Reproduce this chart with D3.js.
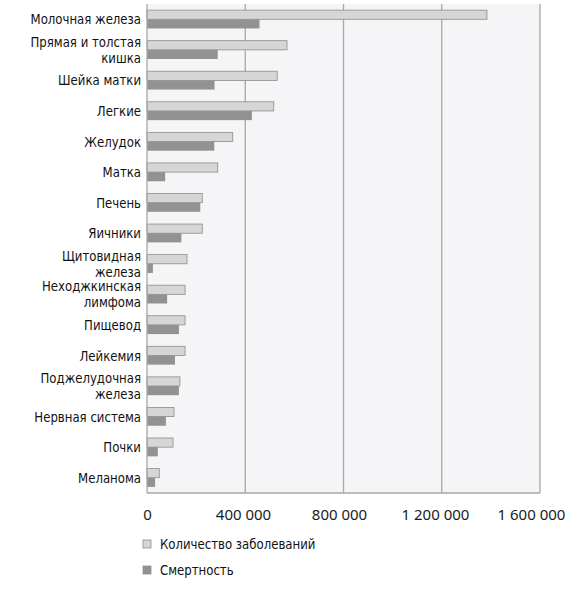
<!DOCTYPE html>
<html>
<head>
<meta charset="utf-8">
<script src="https://cdn.jsdelivr.net/npm/d3@7"></script>
<style>
  body { margin: 0; background: #fff; }
  .lbl { font-family: "DejaVu Sans Condensed", "DejaVu Sans", sans-serif; font-stretch: condensed; font-size: 14.5px; fill: #111; }
  .tick text { font-family: "Noto Sans", "Open Sans", sans-serif; font-size: 15px; fill: #1a1a1a; }
</style>
</head>
<body>
<script>
var width = 583,
	height = 597,
	margin = {top: 4, right: 43, bottom: 104, left: 147},
	squeeze = 0.9,
	lineGap = 16;

// категории (строки подписи разделены \n)
var categories = [
	"Молочная железа",
	"Прямая и толстая\nкишка",
	"Шейка матки",
	"Легкие",
	"Желудок",
	"Матка",
	"Печень",
	"Яичники",
	"Щитовидная\nжелеза",
	"Неходжкинская\nлимфома",
	"Пищевод",
	"Лейкемия",
	"Поджелудочная\nжелеза",
	"Нервная система",
	"Почки",
	"Меланома"
];
var incidence = [1384000, 570000, 530000, 516000, 349000, 288000, 225000, 225000, 163000, 155000, 155000, 155000, 134000, 110000, 106000, 50000];
var mortality = [458000, 288000, 275000, 427000, 274000, 74000, 217000, 140000, 24000, 82000, 130000, 114000, 130000, 77000, 44000, 33000];
var xTicks = [0, 400000, 800000, 1200000, 1600000];
var seriesNames = ["Количество заболеваний", "Смертность"];

var fmt = function(d){ return d3.format(",")(d).replace(/,/g, " "); };

function init() {
	var svg = d3.select("body").append("svg").attr("width", width).attr("height", height);
	var w = width - margin.left - margin.right,
		h = height - margin.top - margin.bottom;
	var g = svg.append("g").attr("transform", "translate(" + margin.left + "," + margin.top + ")");

	var x = d3.scaleLinear().domain([0, 1600000]).range([0, w]);
	var y = d3.scaleBand().domain(categories).range([0, h]).paddingInner(0.4).paddingOuter(0.2);
	var y1 = d3.scaleBand().domain([0, 1]).range([0, y.bandwidth()]);

	g.append("rect").attr("width", w).attr("height", h + 1).attr("fill", "#f5f5f7");

	// сетка
	g.selectAll("line.grid").data(xTicks.slice(1)).enter().append("line").attr("class", "grid")
		.attr("x1", function(d){ return x(d); }).attr("x2", function(d){ return x(d); })
		.attr("y1", 0).attr("y2", h)
		.attr("stroke", "#a8a8a8").attr("stroke-width", 1.3);

	var rows = g.selectAll("g.row").data(categories).enter().append("g").attr("class", "row")
		.attr("transform", function(d){ return "translate(0," + y(d) + ")"; });

	rows.append("rect")
		.attr("x", 0).attr("y", y1(0))
		.attr("width", function(d, i){ return x(incidence[i]); })
		.attr("height", y1.bandwidth())
		.attr("fill", "#d6d6d6").attr("stroke", "#8c8c8c").attr("stroke-width", 0.8);
	rows.append("rect")
		.attr("x", 0).attr("y", y1(1))
		.attr("width", function(d, i){ return x(mortality[i]); })
		.attr("height", y1.bandwidth())
		.attr("fill", "#929292");

	// подписи категорий (сжатый шрифт)
	rows.append("text").attr("class", "lbl")
		.attr("text-anchor", "end")
		.attr("transform", "translate(-6,0) scale(" + squeeze + ",1)")
		.each(function(d){
			var lines = d.split("\n"), t = d3.select(this), c = y.bandwidth() / 2;
			lines.forEach(function(l, k){
				t.append("tspan").attr("x", 0)
					.attr("y", c + (k - (lines.length - 1) / 2) * lineGap)
					.attr("dy", "0.35em").text(l);
			});
		});

	// оси
	g.append("line").attr("x1", 0).attr("x2", 0).attr("y1", 0).attr("y2", h).attr("stroke", "#a8a8a8").attr("stroke-width", 1.3);
	g.append("line").attr("x1", 0).attr("x2", w).attr("y1", h).attr("y2", h).attr("stroke", "#a8a8a8").attr("stroke-width", 1.3);

	var ax = g.append("g").attr("transform", "translate(0," + h + ")")
		.call(d3.axisBottom(x).tickValues(xTicks).tickFormat(fmt).tickSize(0).tickPadding(16));
	ax.select(".domain").remove();
	ax.selectAll(".tick text").attr("dx", function(d){ return -d / 1600000 * 9; });

	// легенда
	var leg = svg.append("g").attr("transform", "translate(143,540)");
	var items = leg.selectAll("g").data(seriesNames).enter().append("g")
		.attr("transform", function(d, i){ return "translate(0," + i * 26 + ")"; });
	items.append("rect").attr("width", 8).attr("height", 8)
		.attr("fill", function(d, i){ return i ? "#929292" : "#d6d6d6"; })
		.attr("stroke", function(d, i){ return i ? "#929292" : "#8c8c8c"; }).attr("stroke-width", 0.8);
	items.append("text").attr("class", "lbl")
		.attr("transform", "translate(17,4) scale(" + squeeze + ",1)")
		.attr("dy", "0.35em")
		.text(function(d){ return d; });
}

init();
</script>
</body>
</html>
